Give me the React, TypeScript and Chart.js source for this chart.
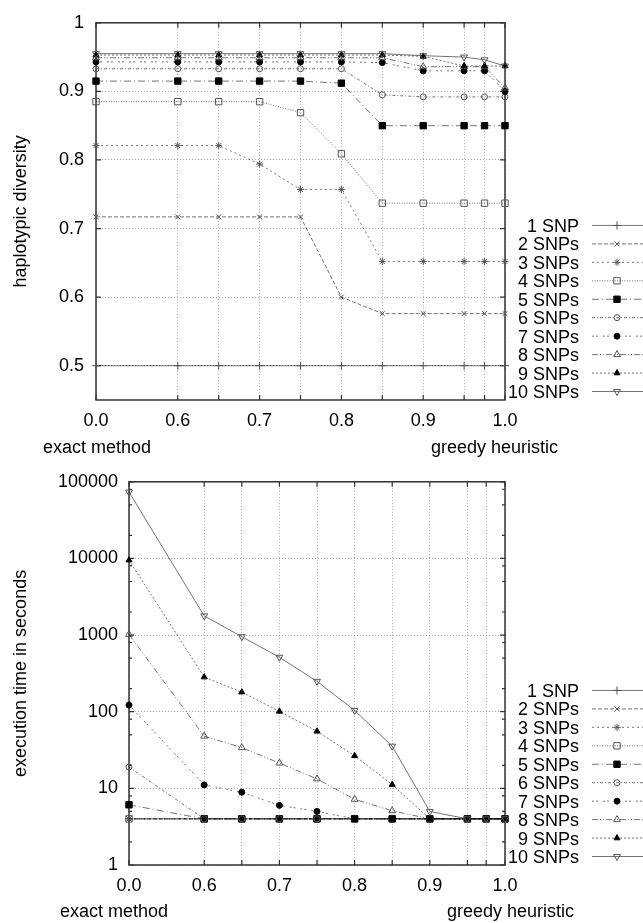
import React, { useEffect, useRef } from 'react';
import { Chart, registerables } from 'chart.js';
import { drawPoint } from 'chart.js/helpers';

Chart.register(...registerables);

// ---------------- data ----------------
const thresholds = [0.0, 0.6, 0.65, 0.7, 0.75, 0.8, 0.85, 0.9, 0.95, 0.975, 1.0];
const labeledThresholds = [0.0, 0.6, 0.7, 0.8, 0.9, 1.0];
const seriesNames = ['1 SNP', '2 SNPs', '3 SNPs', '4 SNPs', '5 SNPs', '6 SNPs', '7 SNPs', '8 SNPs', '9 SNPs', '10 SNPs'];

const diversity1 = [0.5, 0.5, 0.5, 0.5, 0.5, 0.5, 0.5, 0.5, 0.5, 0.5, 0.5];
const diversity2 = [0.717, 0.717, 0.717, 0.717, 0.717, 0.6, 0.576, 0.576, 0.576, 0.576, 0.576];
const diversity3 = [0.821, 0.821, 0.821, 0.794, 0.757, 0.757, 0.652, 0.652, 0.652, 0.652, 0.652];
const diversity4 = [0.885, 0.885, 0.885, 0.885, 0.869, 0.809, 0.737, 0.737, 0.737, 0.737, 0.737];
const diversity5 = [0.915, 0.915, 0.915, 0.915, 0.915, 0.912, 0.85, 0.85, 0.85, 0.85, 0.85];
const diversity6 = [0.933, 0.933, 0.933, 0.933, 0.933, 0.933, 0.895, 0.892, 0.892, 0.892, 0.892];
const diversity7 = [0.943, 0.943, 0.943, 0.943, 0.943, 0.943, 0.942, 0.93, 0.93, 0.93, 0.9];
const diversity8 = [0.949, 0.949, 0.949, 0.949, 0.949, 0.949, 0.949, 0.936, 0.936, 0.936, 0.905];
const diversity9 = [0.953, 0.953, 0.953, 0.953, 0.953, 0.953, 0.953, 0.951, 0.937, 0.937, 0.937];
const diversity10 = [0.955, 0.955, 0.955, 0.955, 0.955, 0.955, 0.955, 0.952, 0.95, 0.946, 0.937];

const time1 = [4, 4, 4, 4, 4, 4, 4, 4, 4, 4, 4];
const time2 = [4, 4, 4, 4, 4, 4, 4, 4, 4, 4, 4];
const time3 = [4, 4, 4, 4, 4, 4, 4, 4, 4, 4, 4];
const time4 = [4, 4, 4, 4, 4, 4, 4, 4, 4, 4, 4];
const time5 = [6.1, 4, 4, 4, 4, 4, 4, 4, 4, 4, 4];
const time6 = [19, 4, 4, 4, 4, 4, 4, 4, 4, 4, 4];
const time7 = [122, 11.1, 8.9, 6.0, 5.0, 4, 4, 4, 4, 4, 4];
const time8 = [1020, 48, 34, 21.4, 13.3, 7.2, 5.1, 4, 4, 4, 4];
const time9 = [9500, 283, 180, 101, 55.6, 26.6, 11.2, 4, 4, 4, 4];
const time10 = [73600, 1780, 953, 514, 249, 104, 35.5, 5.0, 4, 4, 4];

const diversityTicks = [0.5, 0.6, 0.7, 0.8, 0.9, 1.0];
const timeTicks = [1, 10, 100, 1000, 10000, 100000];
const timeMinorTicks = [2, 5, 8, 20, 50, 80, 200, 500, 800, 2000, 5000, 8000, 20000, 50000, 80000];

// ---------------- styles ----------------
const FONT = '"Liberation Sans", Arial, Helvetica, sans-serif';
const LINE_COLOR = 'rgba(0,0,0,0.55)';
const GRID_COLOR = '#a8a8a8';
const FRAME_COLOR = '#333';
const BROKEN_ZERO = 0.5; // the 0.0 threshold is drawn at this position (broken axis)
const xPos = (t: number) => (t === 0 ? BROKEN_ZERO : t);

const seriesStyles = [
  { dash: [], point: 'cross', filled: false, radius: 4, rotation: 0 },
  { dash: [4, 2], point: 'crossRot', filled: false, radius: 3.5, rotation: 0 },
  { dash: [2, 3], point: 'star', filled: false, radius: 3.5, rotation: 0 },
  { dash: [1, 1.5], point: 'rect', filled: false, radius: 4.5, rotation: 0 },
  { dash: [7, 3, 1, 3], point: 'rect', filled: true, radius: 4.5, rotation: 0 },
  { dash: [3, 2, 1, 2], point: 'circle', filled: false, radius: 3, rotation: 0 },
  { dash: [2, 2, 2, 5], point: 'circle', filled: true, radius: 3, rotation: 0 },
  { dash: [6, 2, 1, 2, 1, 2], point: 'triangle', filled: false, radius: 4, rotation: 0 },
  { dash: [2, 2], point: 'triangle', filled: true, radius: 3.5, rotation: 0 },
  { dash: [], point: 'triangle', filled: false, radius: 4, rotation: 180 },
];

Chart.defaults.font.family = FONT;
Chart.defaults.font.size = 18;
Chart.defaults.color = '#000';

function makeDatasets(valuesList: number[][]) {
  return valuesList.map((vals, i) => {
    const s = seriesStyles[i];
    return {
      label: seriesNames[i],
      data: thresholds.map((t, j) => ({ x: xPos(t), y: vals[j] })),
      borderColor: LINE_COLOR,
      borderWidth: 1,
      borderDash: s.dash,
      pointStyle: s.point,
      pointRotation: s.rotation,
      pointRadius: s.radius,
      pointHoverRadius: s.radius,
      pointBorderColor: s.filled ? '#000' : '#555',
      pointBackgroundColor: s.filled ? '#000' : 'rgba(0,0,0,0)',
      pointBorderWidth: 1,
      fill: false,
      tension: 0,
      clip: false,
      order: valuesList.length - i,
    };
  });
}

function decorPlugin(opts: {
  yMajor: number[];
  yMinor: number[];
  sideOffset: number;
  sideY: number;
}) {
  return {
    id: 'decor',
    beforeDatasetsDraw(chart: any) {
      const { ctx, chartArea: a, scales } = chart;
      ctx.save();
      ctx.strokeStyle = FRAME_COLOR;
      ctx.lineWidth = 1.2;
      ctx.setLineDash([]);
      ctx.beginPath();
      for (const t of thresholds) {
        const px = scales.x.getPixelForValue(xPos(t));
        ctx.moveTo(px, a.bottom);
        ctx.lineTo(px, a.bottom - 5);
        ctx.moveTo(px, a.top);
        ctx.lineTo(px, a.top + 5);
      }
      for (const v of opts.yMajor) {
        const py = scales.y.getPixelForValue(v);
        ctx.moveTo(a.left, py);
        ctx.lineTo(a.left + 5, py);
        ctx.moveTo(a.right, py);
        ctx.lineTo(a.right - 5, py);
      }
      for (const v of opts.yMinor) {
        const py = scales.y.getPixelForValue(v);
        ctx.moveTo(a.left, py);
        ctx.lineTo(a.left + 3, py);
        ctx.moveTo(a.right, py);
        ctx.lineTo(a.right - 3, py);
      }
      ctx.stroke();
      ctx.lineWidth = 1.5;
      ctx.strokeRect(a.left, a.top, a.right - a.left, a.bottom - a.top);
      ctx.restore();
    },
    afterDraw(chart: any) {
      const { ctx, chartArea: a } = chart;
      const dsets = chart.data.datasets;
      const n = dsets.length;
      ctx.save();
      ctx.font = `18px ${FONT}`;
      ctx.fillStyle = '#000';
      ctx.textBaseline = 'middle';
      // side labels under the axis
      ctx.textAlign = 'left';
      ctx.fillText('exact method', a.left - opts.sideOffset, a.bottom + opts.sideY);
      ctx.textAlign = 'right';
      ctx.fillText('greedy heuristic', a.right + opts.sideOffset, a.bottom + opts.sideY);
      // legend
      dsets.forEach((ds: any, i: number) => {
        const y = a.bottom - 8.5 - (n - 1 - i) * 18.45;
        ctx.textAlign = 'right';
        ctx.fillStyle = '#000';
        ctx.fillText(ds.label, a.right + 74, y + 1.5);
        ctx.save();
        ctx.strokeStyle = ds.borderColor;
        ctx.lineWidth = 1;
        ctx.setLineDash(ds.borderDash);
        ctx.beginPath();
        ctx.moveTo(a.right + 87, y);
        ctx.lineTo(a.right + 140, y);
        ctx.stroke();
        ctx.restore();
        ctx.save();
        ctx.setLineDash([]);
        ctx.strokeStyle = ds.pointBorderColor;
        ctx.fillStyle = ds.pointBackgroundColor;
        ctx.lineWidth = 1;
        drawPoint(
          ctx,
          { pointStyle: ds.pointStyle, rotation: ds.pointRotation, radius: ds.pointRadius, borderWidth: 1 },
          a.right + 112,
          y
        );
        ctx.restore();
      });
      ctx.restore();
    },
  };
}

function xScale(height: number) {
  return {
    type: 'linear',
    min: BROKEN_ZERO,
    max: 1.0,
    afterBuildTicks: (s: any) => {
      s.ticks = thresholds.map((t) => ({ value: xPos(t) }));
    },
    afterFit: (s: any) => {
      s.height = height;
    },
    ticks: {
      autoSkip: false,
      maxRotation: 0,
      minRotation: 0,
      padding: 10,
      color: '#000',
      font: { family: FONT, size: 18 },
      callback: (v: number) => {
        const t = thresholds.find((tt) => Math.abs(xPos(tt) - v) < 1e-9);
        return t !== undefined && labeledThresholds.includes(t) ? t.toFixed(1) : '';
      },
    },
    grid: { color: GRID_COLOR, lineWidth: 1, drawTicks: false },
    border: { display: false, dash: [1, 2] },
  };
}

function useChart(ref: React.RefObject<HTMLCanvasElement>, makeConfig: () => any) {
  useEffect(() => {
    if (!ref.current) return;
    const chart = new Chart(ref.current, makeConfig());
    return () => chart.destroy();
  }, []);
}

export default function App() {
  const topRef = useRef<HTMLCanvasElement>(null);
  const bottomRef = useRef<HTMLCanvasElement>(null);

  useChart(topRef, () => ({
    type: 'line',
    data: {
      datasets: makeDatasets([
        diversity1, diversity2, diversity3, diversity4, diversity5,
        diversity6, diversity7, diversity8, diversity9, diversity10,
      ]),
    },
    options: {
      responsive: false,
      animation: false,
      layout: { padding: { top: 15, right: 138, left: 0, bottom: 0 } },
      plugins: { legend: { display: false }, tooltip: { enabled: false } },
      scales: {
        x: xScale(60),
        y: {
          type: 'linear',
          min: 0.45,
          max: 1.0,
          afterBuildTicks: (s: any) => {
            s.ticks = diversityTicks.map((v) => ({ value: v }));
          },
          afterFit: (s: any) => {
            s.width = 96;
          },
          ticks: {
            padding: 12,
            color: '#000',
            font: { family: FONT, size: 18 },
            callback: (v: number) => (v === 1 ? '1' : v.toFixed(1)),
          },
          title: {
            display: true,
            text: 'haplotypic diversity',
            color: '#000',
            font: { family: FONT, size: 18 },
            padding: { top: 10, bottom: 0 },
          },
          grid: { color: GRID_COLOR, lineWidth: 1, drawTicks: false },
          border: { display: false, dash: [1, 2] },
        },
      },
    },
    plugins: [decorPlugin({ yMajor: diversityTicks, yMinor: [], sideOffset: 53, sideY: 48 })],
  }));

  useChart(bottomRef, () => ({
    type: 'line',
    data: {
      datasets: makeDatasets([time1, time2, time3, time4, time5, time6, time7, time8, time9, time10]),
    },
    options: {
      responsive: false,
      animation: false,
      layout: { padding: { top: 19, right: 138, left: 0, bottom: 0 } },
      plugins: { legend: { display: false }, tooltip: { enabled: false } },
      scales: {
        x: xScale(58),
        y: {
          type: 'logarithmic',
          min: 1,
          max: 100000,
          afterBuildTicks: (s: any) => {
            s.ticks = timeTicks.map((v) => ({ value: v }));
          },
          afterFit: (s: any) => {
            s.width = 129;
          },
          ticks: {
            padding: 11,
            color: '#000',
            font: { family: FONT, size: 18 },
            callback: (v: number) => String(v),
          },
          title: {
            display: true,
            text: 'execution time in seconds',
            color: '#000',
            font: { family: FONT, size: 18 },
            padding: { top: 10, bottom: 0 },
          },
          grid: { color: GRID_COLOR, lineWidth: 1, drawTicks: false },
          border: { display: false, dash: [1, 2] },
        },
      },
    },
    plugins: [decorPlugin({ yMajor: timeTicks, yMinor: timeMinorTicks, sideOffset: 69, sideY: 47 })],
  }));

  return (
    <div style={{ position: 'absolute', left: 0, top: 0, width: 643, height: 923, background: '#fff' }}>
      <canvas ref={topRef} width={643} height={460} style={{ display: 'block' }} />
      <canvas ref={bottomRef} width={643} height={463} style={{ display: 'block' }} />
    </div>
  );
}
